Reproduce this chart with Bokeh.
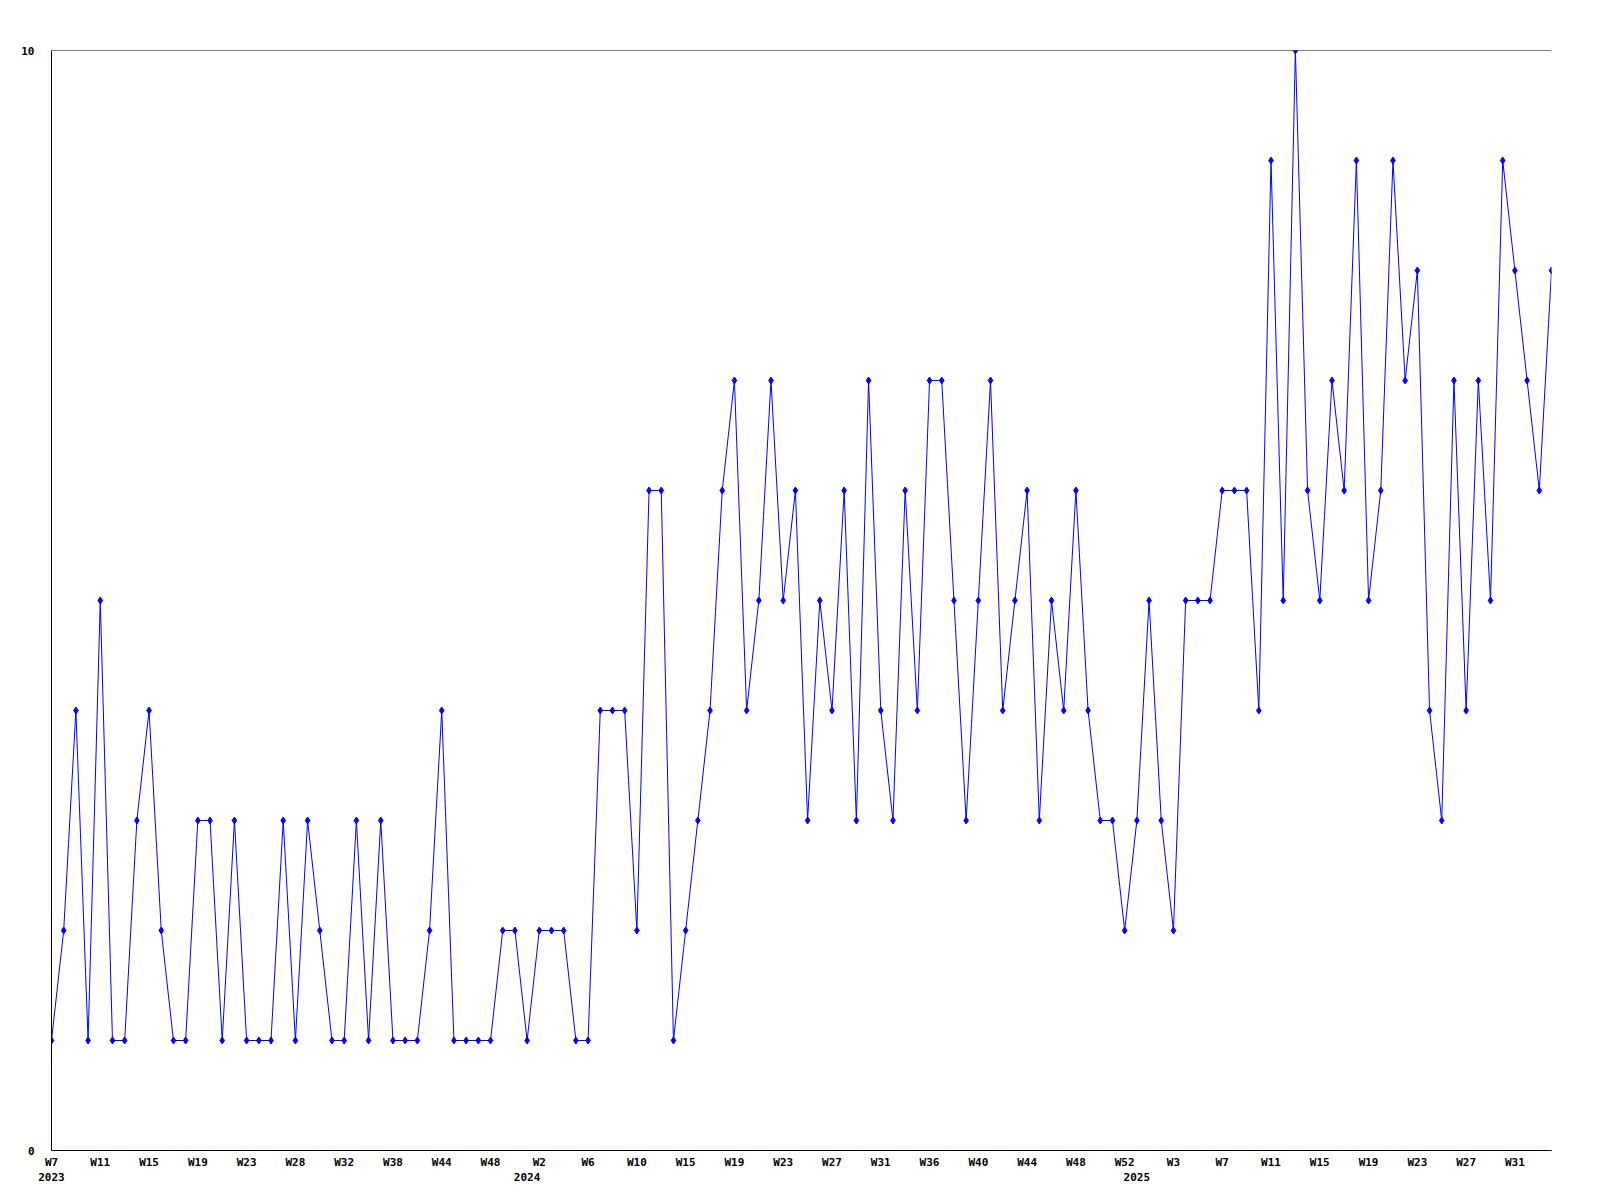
from bokeh.plotting import figure
from bokeh.models import Range1d, FixedTicker, LinearAxis, Span
from bokeh.embed import file_html
from bokeh.resources import INLINE

# weekly values, 2023-W7 .. 2025-W34
values = [1, 2, 4, 1, 5, 1, 1, 3, 4, 2,
          1, 1, 3, 3, 1, 3, 1, 1, 1, 3,
          1, 3, 2, 1, 1, 3, 1, 3, 1, 1,
          1, 2, 4, 1, 1, 1, 1, 2, 2, 1,
          2, 2, 2, 1, 1, 4, 4, 4, 2, 6,
          6, 1, 2, 3, 4, 6, 7, 4, 5, 7,
          5, 6, 3, 5, 4, 6, 3, 7, 4, 3,
          6, 4, 7, 7, 5, 3, 5, 7, 4, 5,
          6, 3, 5, 4, 6, 4, 3, 3, 2, 3,
          5, 3, 2, 5, 5, 5, 6, 6, 6, 4,
          9, 5, 10, 6, 5, 7, 6, 9, 5, 6,
          9, 7, 8, 4, 3, 7, 4, 7, 5, 9,
          8, 7, 6, 8]

# week labels shown on every 4th point
week_labels = ["W7", "W11", "W15", "W19", "W23", "W28", "W32", "W38", "W44", "W48",
               "W2", "W6", "W10", "W15", "W19", "W23", "W27", "W31", "W36", "W40",
               "W44", "W48", "W52", "W3", "W7", "W11", "W15", "W19", "W23", "W27", "W31"]
label_step = 4

# year labels at the first point of each year
year_labels = ["2023", "2024", "2025"]
year_first_point = [0, 39, 89]

y_ticks = [0, 10]

x = list(range(len(values)))
week_ticks = list(range(0, len(values), label_step))[:len(week_labels)]

FONT = "DejaVu Sans Mono"
FS = "11px"

p = figure(frame_width=1500, frame_height=1100,
           min_border_left=51, min_border_top=50, min_border_right=30, min_border_bottom=36,
           x_range=Range1d(0, len(values) - 1), y_range=Range1d(min(y_ticks), max(y_ticks)),
           output_backend="svg", toolbar_location=None,
           background_fill_color="white", border_fill_color="white")
p.outline_line_color = None
p.xgrid.visible = False
p.ygrid.visible = False

p.line(x, values, line_color="#0000ff", line_width=1)
p.scatter(x, values, marker="diamond", size=7, fill_color="#0000ff", line_color="#0000ff")

# top border line
p.add_layout(Span(location=max(y_ticks), dimension="width", line_color="black", line_width=1))

def style_axis(ax):
    ax.axis_line_color = "black"
    ax.axis_line_width = 1
    ax.major_tick_line_color = None
    ax.minor_tick_line_color = None
    ax.major_tick_out = 0
    ax.major_tick_in = 0
    ax.minor_tick_out = 0
    ax.minor_tick_in = 0
    ax.major_label_text_font = FONT
    ax.major_label_text_font_size = FS
    ax.major_label_text_font_style = "bold"
    ax.major_label_text_color = "black"

# y axis
ya = p.yaxis[0]
style_axis(ya)
ya.ticker = FixedTicker(ticks=y_ticks)
ya.major_label_standoff = 17

# week axis
xa = p.xaxis[0]
style_axis(xa)
xa.ticker = FixedTicker(ticks=week_ticks)
xa.major_label_overrides = {t: lab for t, lab in zip(week_ticks, week_labels)}
xa.major_label_standoff = 5

# year axis
ya2 = LinearAxis()
style_axis(ya2)
ya2.axis_line_color = None
ya2.ticker = FixedTicker(ticks=year_first_point)
ya2.major_label_overrides = {t: lab for t, lab in zip(year_first_point, year_labels)}
ya2.major_label_standoff = 1
p.add_layout(ya2, "below")

open("out.html", "w").write(file_html(p, INLINE))
